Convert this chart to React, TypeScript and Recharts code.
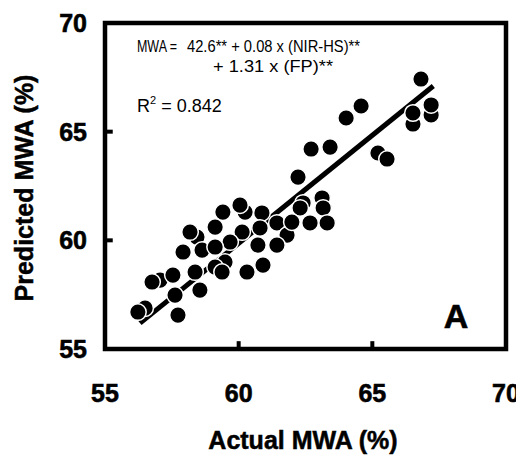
import React from 'react';
import { ScatterChart, Scatter, XAxis, YAxis, ReferenceArea, ReferenceLine } from 'recharts';

const actualMWA = [
  66.82, 64.58, 64.02, 63.42, 62.71, 62.22, 65.21, 65.55, 66.52, 67.2,
  67.2, 66.52, 62.41, 63.12, 63.16, 63.31, 62.67, 62.3, 61.43, 61.81,
  61.43, 60.91, 60.31, 59.41, 60.24, 60.87, 59.12, 60.13, 60.8, 58.44,
  57.92, 58.63, 59.68, 60.72, 59.49, 59.12, 58.37, 59.38, 57.06, 57.54,
  58.55, 57.62, 57.73, 56.5, 56.23, 59.12, 61.99, 58.18, 56.76, 60.05,
];
const predictedMWA = [
  67.42, 66.18, 65.63, 64.29, 64.2, 62.91, 64.02, 63.74, 65.35, 65.77,
  66.23, 65.86, 61.72, 61.95, 61.49, 60.8, 60.8, 61.49, 60.8, 60.24,
  59.78, 58.86, 58.54, 61.3, 61.3, 61.26, 60.61, 60.38, 60.57, 60.15,
  59.46, 59.55, 59.92, 59.78, 59.0, 58.77, 58.54, 58.54, 58.17, 58.4,
  57.71, 57.48, 56.56, 56.88, 56.7, 59.69, 60.84, 60.38, 58.08, 61.62,
];
const fitLineX = [56.31, 67.28];
const fitLineY = [56.19, 67.1];
const xTicks = [55, 60, 65, 70];
const yTicks = [55, 60, 65, 70];
const innerXTicks = [60, 65];
const innerYTicks = [60, 65];

const points = actualMWA.map((x, i) => ({ x, y: predictedMWA[i] }));
const fitData = fitLineX.map((x, i) => ({ x, y: fitLineY[i] }));

const FONT = '"Liberation Sans", Arial, sans-serif';
const tickStyle = { fontSize: 25, fontWeight: 'bold', fill: '#000', stroke: '#000', strokeWidth: 0.6, fontFamily: FONT };

const Dot = (p: any) => (
  <circle cx={p.cx} cy={p.cy} r={8.3} fill="#000" stroke="#fff" strokeWidth={1.5} />
);
const NoDot = () => <g />;

export default function App() {
  return (
    <div style={{ position: 'relative', width: 516, height: 450 }}>
      <ScatterChart width={516} height={450} margin={{ top: 15, right: 18, bottom: 0, left: 0 }}>
        <XAxis
          type="number"
          dataKey="x"
          domain={[55, 70]}
          ticks={xTicks}
          interval={0}
          axisLine={false}
          tickLine={false}
          tickSize={0}
          tickMargin={35}
          height={109}
          tick={tickStyle}
          allowDataOverflow
        />
        <YAxis
          type="number"
          dataKey="y"
          domain={[55, 70]}
          ticks={yTicks}
          interval={0}
          axisLine={false}
          tickLine={false}
          tickSize={0}
          tickMargin={18}
          width={97}
          tick={tickStyle}
          allowDataOverflow
        />
        <Scatter data={fitData} shape={NoDot} line={{ stroke: '#000', strokeWidth: 5 }} isAnimationActive={false} />
        <Scatter data={points} shape={Dot} isAnimationActive={false} />
        {innerXTicks.map((t) => (
          <ReferenceLine key={'x' + t} segment={[{ x: t, y: 55 }, { x: t, y: 55.36 }]} stroke="#000" strokeWidth={4} />
        ))}
        {innerYTicks.map((t) => (
          <ReferenceLine key={'y' + t} segment={[{ x: 55, y: t }, { x: 55.29, y: t }]} stroke="#000" strokeWidth={4} />
        ))}
        <ReferenceArea x1={55} x2={70} y1={55} y2={70} fill="none" stroke="#000" strokeWidth={4.5} />
      </ScatterChart>
      <svg width={516} height={450} style={{ position: 'absolute', left: 0, top: 0, pointerEvents: 'none' }}>
        <g fontFamily={FONT} fill="#000">
          <text x={129} y={44} fontSize={17} textLength={40} lengthAdjust="spacingAndGlyphs">MWA =</text>
          <text x={179} y={44} fontSize={17} textLength={173} lengthAdjust="spacingAndGlyphs">42.6** + 0.08 x (NIR-HS)**</text>
          <text x={205} y={64} fontSize={17} textLength={120} lengthAdjust="spacingAndGlyphs">+ 1.31 x (FP)**</text>
          <text x={129} y={104} fontSize={18}>
            R<tspan fontSize={11} dy={-8}>2</tspan><tspan dy={8}> = 0.842</tspan>
          </text>
          <text x={448} y={320} fontSize={34} fontWeight="bold" stroke="#000" strokeWidth={0.6} textAnchor="middle">A</text>
          <text x={295} y={441} fontSize={25} fontWeight="bold" stroke="#000" strokeWidth={0.5} textAnchor="middle">Actual MWA (%)</text>
          <text x={25} y={180} fontSize={25} fontWeight="bold" stroke="#000" strokeWidth={0.5} textAnchor="middle" transform="rotate(-90 25 180)">Predicted MWA (%)</text>
        </g>
      </svg>
    </div>
  );
}
